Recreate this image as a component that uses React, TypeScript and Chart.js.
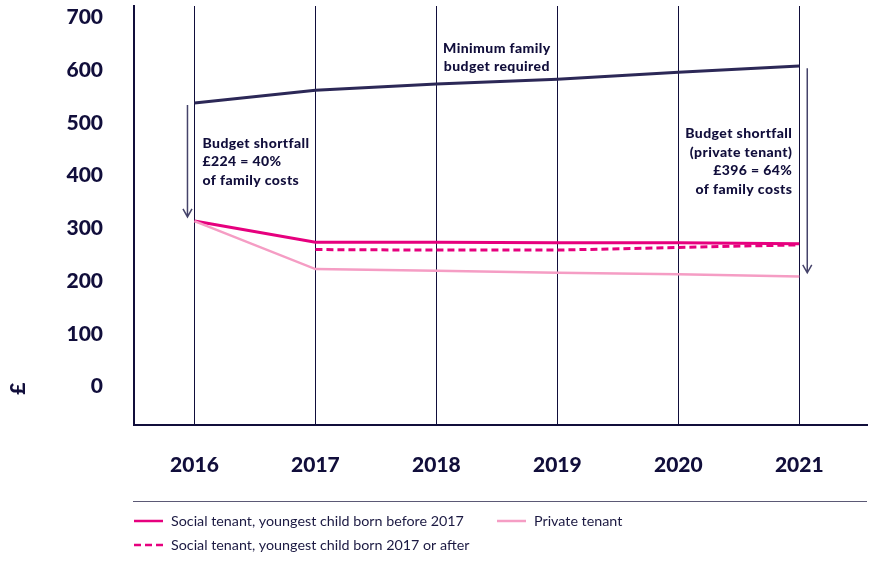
import React, { useEffect, useRef } from 'react';
import { Chart, registerables } from 'chart.js';

Chart.register(...registerables);

const years = [2016, 2017, 2018, 2019, 2020, 2021];
const budget = [538, 562, 574, 583, 596, 608];
const socialBefore = [314, 274, 274, 273, 273, 271];
const socialAfter = [null, 260, 259, 259, 264, 269];
const privateTenant = [314, 223, 220, 216, 213, 209];
const yTicks = [0, 100, 200, 300, 400, 500, 600, 700];

const seriesLabels = [
  'Minimum family budget required',
  'Private tenant',
  'Social tenant, youngest child born before 2017',
  'Social tenant, youngest child born 2017 or after',
];

const leftNote = ['Budget shortfall', '£224 = 40%', 'of family costs'];
const rightNote = ['Budget shortfall', '(private tenant)', '£396 = 64%', 'of family costs'];
const topNote = ['Minimum family', 'budget required'];

const NAVY = '#110e3b';
const PINK = '#e6007e';
const LIGHT_PINK = '#f59dc4';
const BUDGET = '#2c2857';
const BOLD = 'Lato, "DejaVu Sans", sans-serif';

const toPoints = (vals: (number | null)[]) => years.map((x, i) => ({ x, y: vals[i] }));

// annotations + custom legend
const notesPlugin = {
  id: 'notes',
  afterDatasetsDraw(chart: any) {
    const { ctx, chartArea, scales } = chart;
    const xs = scales.x;
    const ys = scales.y;
    ctx.save();
    ctx.fillStyle = NAVY;
    ctx.font = `900 14px ${BOLD}`;
    ctx.letterSpacing = '0.4px';
    ctx.textBaseline = 'middle';

    // left note
    ctx.textAlign = 'left';
    leftNote.forEach((t, i) => ctx.fillText(t, xs.getPixelForValue(2016) + 8, ys.getPixelForValue(462) + i * 18.5));
    // right note
    ctx.textAlign = 'right';
    rightNote.forEach((t, i) => ctx.fillText(t, xs.getPixelForValue(2021) - 7, ys.getPixelForValue(480) + i * 18.6));
    // top note
    ctx.textAlign = 'center';
    const mid = (xs.getPixelForValue(2018) + xs.getPixelForValue(2019)) / 2;
    topNote.forEach((t, i) => ctx.fillText(t, mid, ys.getPixelForValue(641) + i * 17.5));
    ctx.letterSpacing = '0px';

    // arrows
    const arrows = [
      { x: 2016, dx: -7, from: 534, to: 322 },
      { x: 2021, dx: 8, from: 604, to: 216 },
    ];
    ctx.strokeStyle = '#45436a';
    ctx.lineWidth = 1.5;
    arrows.forEach((a) => {
      const x = xs.getPixelForValue(a.x) + a.dx;
      const y0 = ys.getPixelForValue(a.from);
      const y1 = ys.getPixelForValue(a.to);
      ctx.beginPath();
      ctx.moveTo(x, y0);
      ctx.lineTo(x, y1);
      ctx.moveTo(x - 4.5, y1 - 8);
      ctx.lineTo(x, y1);
      ctx.lineTo(x + 4.5, y1 - 8);
      ctx.stroke();
    });

    // axis unit
    ctx.save();
    ctx.translate(18, ys.getPixelForValue(0) + 2);
    ctx.rotate(-Math.PI / 2);
    ctx.textAlign = 'center';
    ctx.font = `900 21px ${BOLD}`;
    ctx.fillText('£', 0, 0);
    ctx.restore();

    // legend
    const sepY = chartArea.bottom + 76.5;
    ctx.strokeStyle = '#5b5975';
    ctx.lineWidth = 1;
    ctx.beginPath();
    ctx.moveTo(chartArea.left - 1, sepY);
    ctx.lineTo(chartArea.right, sepY);
    ctx.stroke();

    const layout = [
      { index: 2, col: 0, row: 0 },
      { index: 1, col: 1, row: 0 },
      { index: 3, col: 0, row: 1 },
    ];
    ctx.font = '14.3px Lato, sans-serif';
    ctx.textAlign = 'left';
    layout.forEach(({ index, col, row }) => {
      const ds = chart.data.datasets[index];
      const x = chartArea.left + col * 363;
      const y = chartArea.bottom + 96 + row * 24;
      ctx.strokeStyle = ds.borderColor;
      ctx.lineWidth = 2.5;
      ctx.setLineDash(ds.borderDash || []);
      ctx.beginPath();
      ctx.moveTo(x, y);
      ctx.lineTo(x + 29, y);
      ctx.stroke();
      ctx.setLineDash([]);
      ctx.fillStyle = '#1b1942';
      ctx.fillText(ds.label, x + 37, y);
    });
    ctx.restore();
  },
};

const App: React.FC = () => {
  const chartRef = useRef<HTMLCanvasElement>(null);
  const chartInstanceRef = useRef<Chart | null>(null);

  useEffect(() => {
    if (!chartRef.current) return;
    const ctx = chartRef.current.getContext('2d');
    if (!ctx) return;
    if (chartInstanceRef.current) chartInstanceRef.current.destroy();

    chartInstanceRef.current = new Chart(ctx, {
      type: 'line',
      data: {
        datasets: [
          { label: seriesLabels[0], data: toPoints(budget), borderColor: BUDGET, borderWidth: 3 },
          { label: seriesLabels[1], data: toPoints(privateTenant), borderColor: LIGHT_PINK, borderWidth: 2.5 },
          { label: seriesLabels[2], data: toPoints(socialBefore), borderColor: PINK, borderWidth: 3 },
          { label: seriesLabels[3], data: toPoints(socialAfter), borderColor: PINK, borderWidth: 3, borderDash: [7, 4] },
        ],
      },
      options: {
        responsive: true,
        maintainAspectRatio: false,
        animation: false,
        layout: { padding: { top: 6, right: 6, left: 0, bottom: 0 } },
        elements: { point: { radius: 0, hoverRadius: 0 }, line: { tension: 0 } },
        plugins: { legend: { display: false }, tooltip: { enabled: false } },
        scales: {
          x: {
            type: 'linear',
            min: 2015.5,
            max: 2021.56,
            afterBuildTicks: (scale: any) => {
              scale.ticks = years.map((v) => ({ value: v }));
            },
            afterFit: (scale: any) => {
              scale.height = 137;
              scale.paddingLeft = 0;
              scale.paddingRight = 0;
            },
            grid: { color: NAVY, lineWidth: 1, drawTicks: false },
            border: { color: NAVY, width: 2 },
            ticks: {
              padding: 28,
              color: NAVY,
              font: { family: BOLD, size: 21, weight: '900' },
              callback: (v: any) => String(v),
            },
          },
          y: {
            min: -72.6,
            max: 721.8,
            afterBuildTicks: (scale: any) => {
              scale.ticks = yTicks.map((v) => ({ value: v }));
            },
            afterFit: (scale: any) => {
              scale.width = 134;
              scale.paddingTop = 0;
              scale.paddingBottom = 0;
            },
            grid: { display: false, drawTicks: false },
            border: { color: NAVY, width: 2 },
            ticks: {
              padding: 31,
              color: NAVY,
              font: { family: BOLD, size: 21, weight: '900' },
            },
          },
        },
      },
      plugins: [notesPlugin],
    } as any);

    return () => {
      if (chartInstanceRef.current) {
        chartInstanceRef.current.destroy();
        chartInstanceRef.current = null;
      }
    };
  }, []);

  return (
    <div style={{ position: 'fixed', left: 0, top: 0, width: 873, height: 562, background: '#fff' }}>
      <canvas ref={chartRef}></canvas>
    </div>
  );
};

export default App;
